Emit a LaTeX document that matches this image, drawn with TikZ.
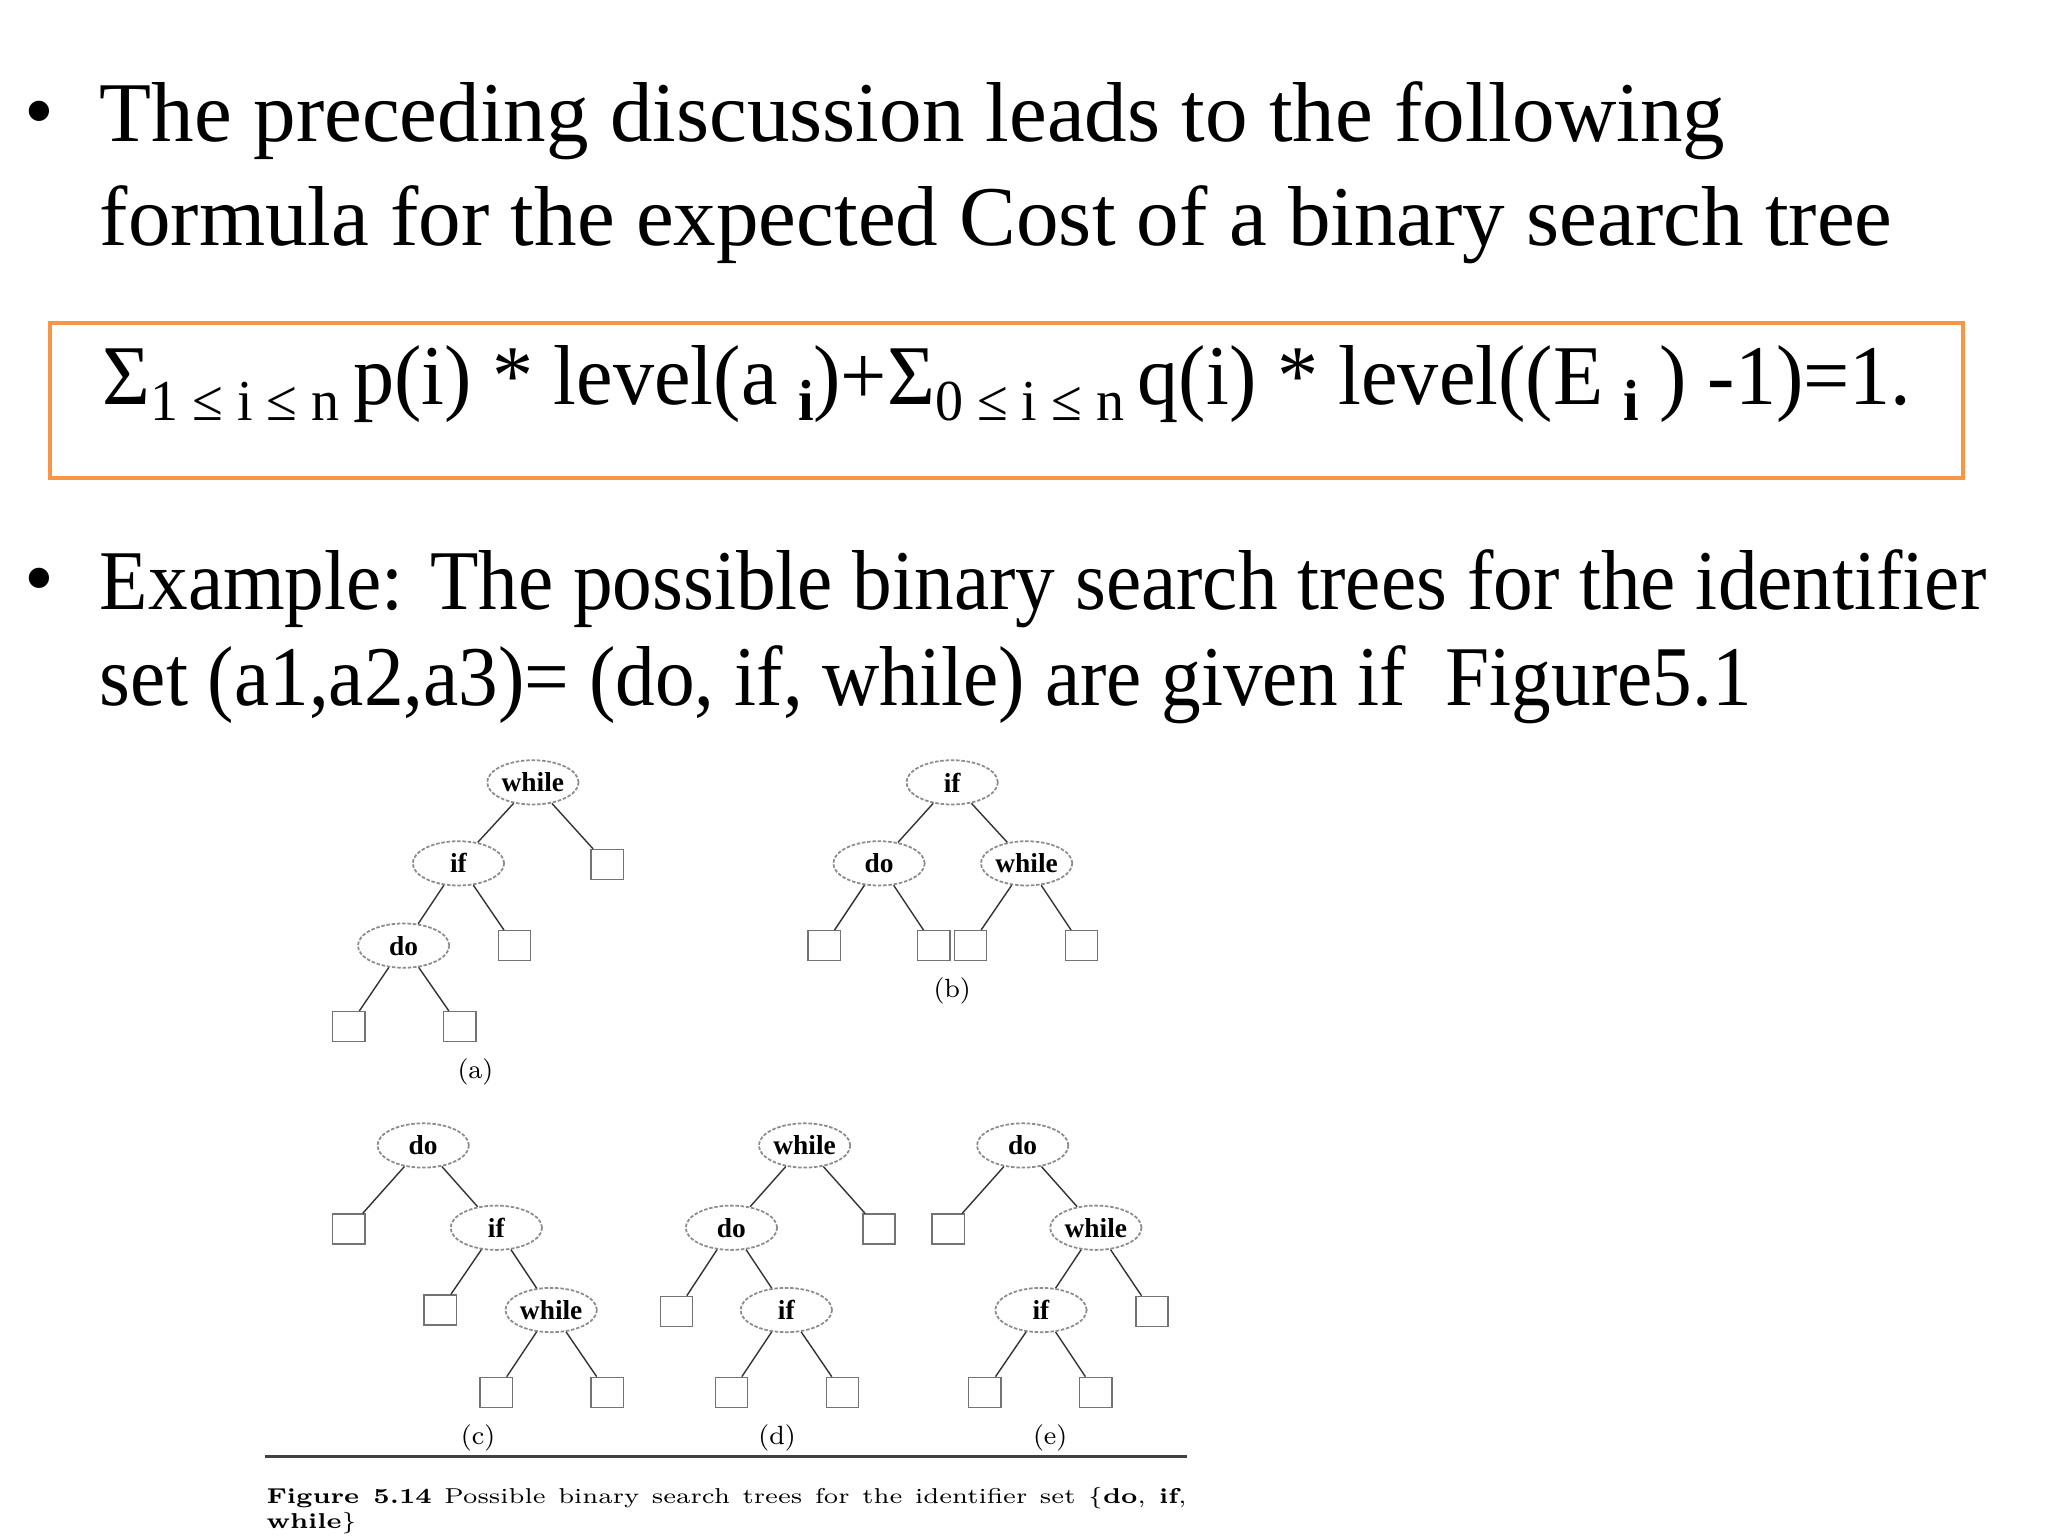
\documentclass[tikz,border=0pt]{standalone}
\usepackage{fontspec}
\usepackage{graphicx}
\usetikzlibrary{shapes.geometric}
\newfontfamily\slidefont{Liberation Serif}
\definecolor{boxorange}{HTML}{F79646}
\newcommand{\formsub}[1]{\raisebox{-4.5pt}{\fontsize{16.5}{17}\selectfont #1}}

\begin{document}
\begin{tikzpicture}[
  x=0.013061cm, y=-0.013061cm,
  keynode/.style={ellipse, draw=black!45, dash pattern=on 1pt off 0.5pt, line width=0.5pt,
    minimum width=26pt, minimum height=12.6pt, inner sep=0pt,
    font=\slidefont\bfseries\fontsize{7.8}{8}\selectfont},
  extnode/.style={rectangle, draw=black!55, minimum width=9.2pt, minimum height=8.5pt, inner sep=0pt},
  branch/.style={draw=black!80, line width=0.4pt},
  treelabel/.style={inner sep=0pt, font=\fontsize{7.5}{8}\selectfont},
  captionline/.style={anchor=base west, inner sep=0pt, font=\fontsize{7.2}{8}\selectfont},
  slideline/.style={anchor=base west, inner sep=0pt, font=\slidefont\fontsize{24.2}{29}\selectfont},
  bulletmark/.style={inner sep=0pt, font=\slidefont\fontsize{24.2}{29}\selectfont}
]
\useasboundingbox (0,0) rectangle (1568,1176);

% slide text
\node[bulletmark] (dot1) at (30,92) {•};
\node[slideline] (pre1) at (76,108) {The preceding discussion leads to the following};
\node[slideline] (pre2) at (76,188) {formula for the expected Cost of a binary search tree};

\draw[boxorange, line width=1.1pt] (38,247) rectangle (1503,366);
\node[slideline] (sumline) at (78,310) {\scalebox{0.966}[1]{Σ\formsub{1 ≤ i ≤ n}\,p(i) * level(a \formsub{\textbf{i}})+Σ\formsub{0 ≤ i ≤ n}\,q(i) * level((E \formsub{\textbf{i}} ) -1)=1.}};

\node[bulletmark] (dot2) at (30,450) {•};
\node[slideline] (ex1) at (76,467) {\scalebox{0.932}[1]{Example: The possible binary search trees for the identifier}};
\node[slideline] (ex2) at (76,540) {\scalebox{0.932}[1]{set (a1,a2,a3)= (do, if, while) are given if~ Figure5.1}};

% tree (a)
\node[keynode] (a-while) at (408,599) {while};
\node[keynode] (a-if) at (351,661) {if};
\node[keynode] (a-do) at (309,724) {do};
\node[extnode] (a-e3) at (465,662) {};
\node[extnode] (a-e2) at (394,724) {};
\node[extnode] (a-e0) at (267,786) {};
\node[extnode] (a-e1) at (352,786) {};
\node[treelabel] (a-name) at (364,821) {(a)};
\draw[branch] (a-while) -- (a-if);
\draw[branch] (a-while) -- (a-e3);
\draw[branch] (a-if) -- (a-do);
\draw[branch] (a-if) -- (a-e2);
\draw[branch] (a-do) -- (a-e0);
\draw[branch] (a-do) -- (a-e1);

% tree (b)
\node[keynode] (b-if) at (729,599) {if};
\node[keynode] (b-do) at (673,661) {do};
\node[keynode] (b-while) at (786,661) {while};
\node[extnode] (b-e0) at (631,724) {};
\node[extnode] (b-e1) at (715,724) {};
\node[extnode] (b-e2) at (743,724) {};
\node[extnode] (b-e3) at (828,724) {};
\node[treelabel] (b-name) at (729,759) {(b)};
\draw[branch] (b-if) -- (b-do);
\draw[branch] (b-if) -- (b-while);
\draw[branch] (b-do) -- (b-e0);
\draw[branch] (b-do) -- (b-e1);
\draw[branch] (b-while) -- (b-e2);
\draw[branch] (b-while) -- (b-e3);

% tree (c)
\node[keynode] (c-do) at (324,877) {do};
\node[keynode] (c-if) at (380,940) {if};
\node[keynode] (c-while) at (422,1003) {while};
\node[extnode] (c-e0) at (267,941) {};
\node[extnode] (c-e1) at (337,1003) {};
\node[extnode] (c-e2) at (380,1066) {};
\node[extnode] (c-e3) at (465,1066) {};
\node[treelabel] (c-name) at (366,1101) {(c)};
\draw[branch] (c-do) -- (c-e0);
\draw[branch] (c-do) -- (c-if);
\draw[branch] (c-if) -- (c-e1);
\draw[branch] (c-if) -- (c-while);
\draw[branch] (c-while) -- (c-e2);
\draw[branch] (c-while) -- (c-e3);

% tree (d)
\node[keynode] (d-while) at (616,877) {while};
\node[keynode] (d-do) at (560,940) {do};
\node[keynode] (d-if) at (602,1003) {if};
\node[extnode] (d-e3) at (673,941) {};
\node[extnode] (d-e0) at (518,1004) {};
\node[extnode] (d-e1) at (560,1066) {};
\node[extnode] (d-e2) at (645,1066) {};
\node[treelabel] (d-name) at (595,1101) {(d)};
\draw[branch] (d-while) -- (d-do);
\draw[branch] (d-while) -- (d-e3);
\draw[branch] (d-do) -- (d-e0);
\draw[branch] (d-do) -- (d-if);
\draw[branch] (d-if) -- (d-e1);
\draw[branch] (d-if) -- (d-e2);

% tree (e)
\node[keynode] (e-do) at (783,877) {do};
\node[keynode] (e-while) at (839,940) {while};
\node[keynode] (e-if) at (797,1003) {if};
\node[extnode] (e-e0) at (726,941) {};
\node[extnode] (e-e3) at (882,1004) {};
\node[extnode] (e-e1) at (754,1066) {};
\node[extnode] (e-e2) at (839,1066) {};
\node[treelabel] (e-name) at (804,1101) {(e)};
\draw[branch] (e-do) -- (e-e0);
\draw[branch] (e-do) -- (e-while);
\draw[branch] (e-while) -- (e-if);
\draw[branch] (e-while) -- (e-e3);
\draw[branch] (e-if) -- (e-e1);
\draw[branch] (e-if) -- (e-e2);

% caption
\coordinate (rule-l) at (203,1115);
\coordinate (rule-r) at (909,1115);
\draw[black!75, line width=1pt] (rule-l) -- (rule-r);
\node[captionline] (figcap1) at (203.5,1151)
  {\scalebox{1}[0.85]{\makebox[261.8pt][s]{\textbf{Figure 5.14} Possible binary search trees for the identifier set \{\textbf{do}, \textbf{if},}}};
\node[captionline] (figcap2) at (203.5,1170)
  {\scalebox{1}[0.85]{\textbf{while}\}}};
\end{tikzpicture}
\end{document}
